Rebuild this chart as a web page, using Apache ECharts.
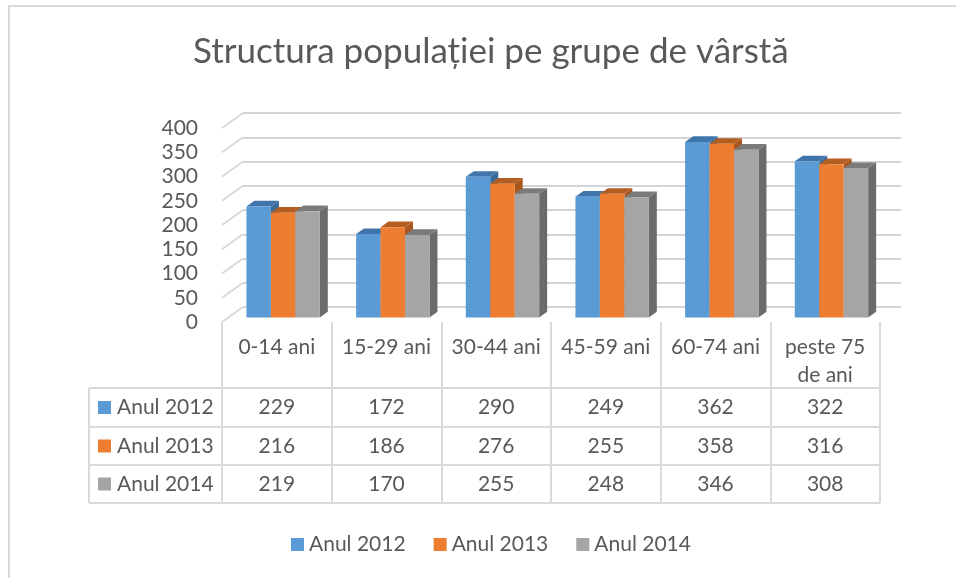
<!DOCTYPE html>
<html>
<head>
<meta charset="utf-8">
<script src="https://cdn.jsdelivr.net/npm/echarts@6/dist/echarts.min.js"></script>
<style>
html,body{margin:0;padding:0;background:#fff;}
#c{width:956px;height:578px;}
</style>
</head>
<body>
<div id="c"></div>
<script>
// ---- data ----
var categories = ['0-14 ani', '15-29 ani', '30-44 ani', '45-59 ani', '60-74 ani', 'peste 75\nde ani'];
var seriesNames = ['Anul 2012', 'Anul 2013', 'Anul 2014'];
var anul2012 = [229, 172, 290, 249, 362, 322];
var anul2013 = [216, 186, 276, 255, 358, 316];
var anul2014 = [219, 170, 255, 248, 346, 308];
var yTicks = [0, 50, 100, 150, 200, 250, 300, 350, 400];
var titleText = 'Structura populației pe grupe de vârstă';

// ---- style / layout ----
var FONT = 'Lato, "Open Sans", sans-serif';
var TXT = '#595959';
var LINE = '#d9d9d9';
var frontColors = ['#5b9bd5', '#ed7d31', '#a5a5a5'];
var topColors = ['#3f75ab', '#b55e22', '#7b7b7b'];
var sideColors = ['#3a6a98', '#a8561d', '#6b6b6b'];
var DX = 21, DY = -15;          // back wall offset from front plane
var FRONT_DEPTH = 0.3, BAR_DEPTH = 0.38, BAR_FRAC = 0.223;
var FS = 21;

var allValues = [anul2012, anul2013, anul2014];

var chart = echarts.init(document.getElementById('c'), null, {renderer: 'canvas'});

function barRenderer(si) {
  return function (params, api) {
    var c = api.value(0), v = api.value(1);
    var top = api.coord([c, v]);
    var base = api.coord([c, 0]);
    var band = api.size([1, 0])[0];
    var bw = band * BAR_FRAC;
    var fx = DX * FRONT_DEPTH, fy = DY * FRONT_DEPTH;
    var dx = DX * BAR_DEPTH, dy = DY * BAR_DEPTH;
    var x0 = top[0] - 1.5 * bw + si * bw + fx;
    var x1 = x0 + bw;
    var yT = top[1] + fy, yB = base[1] + fy;
    return {
      type: 'group',
      children: [
        {type: 'polygon', shape: {points: [[x1, yT], [x1 + dx, yT + dy], [x1 + dx, yB + dy], [x1, yB]]},
          style: {fill: sideColors[si]}},
        {type: 'polygon', shape: {points: [[x0, yT], [x1, yT], [x1 + dx, yT + dy], [x0 + dx, yT + dy]]},
          style: {fill: topColors[si]}},
        {type: 'rect', shape: {x: x0, y: yT, width: bw, height: yB - yT},
          style: {fill: frontColors[si]}}
      ]
    };
  };
}

var series = [];
// side wall diagonals
series.push({
  type: 'custom', xAxisIndex: 1, yAxisIndex: 1, silent: true,
  data: yTicks.map(function (t) { return [0, t]; }),
  renderItem: function (params, api) {
    var p = api.coord([0, api.value(1)]);
    var x = params.coordSys.x;
    return {type: 'line', shape: {x1: x, y1: p[1], x2: x + DX, y2: p[1] + DY},
      style: {stroke: LINE, lineWidth: 2}};
  }
});
seriesNames.forEach(function (name, si) {
  series.push({
    name: name, type: 'custom', xAxisIndex: 1, yAxisIndex: 1,
    itemStyle: {color: frontColors[si]},
    data: allValues[si].map(function (v, i) { return [i, v]; }),
    encode: {x: 0, y: 1},
    renderItem: barRenderer(si)
  });
});

var option = {
  animation: false,
  backgroundColor: '#fff',
  textStyle: {fontFamily: FONT},
  title: {
    text: titleText, left: 188, top: 29,
    textStyle: {fontFamily: FONT, fontSize: 35, fontWeight: 'normal', color: TXT}
  },
  legend: {
    data: seriesNames, left: 286, top: 529, icon: 'rect', itemWidth: 13, itemHeight: 13, itemGap: 28,
    textStyle: {fontFamily: FONT, fontSize: FS, color: TXT}
  },
  grid: [
    {left: 243, top: 113, width: 658, height: 194},  // back wall
    {left: 222, top: 128, width: 658, height: 194}   // front plane
  ],
  xAxis: [
    {type: 'category', gridIndex: 0, data: categories, show: false},
    {type: 'category', gridIndex: 1, data: categories,
      axisLine: {show: false},
      axisTick: {show: true, length: 181, inside: false, lineStyle: {color: LINE, width: 2}},
      axisLabel: {margin: 11, color: TXT, fontSize: FS, fontFamily: FONT, lineHeight: 28, align: 'center', verticalAlign: 'top', interval: 0}
    }
  ],
  yAxis: [
    {type: 'value', gridIndex: 0, min: 0, max: 400, interval: 50,
      axisLabel: {show: false}, axisLine: {show: false}, axisTick: {show: false},
      splitLine: {lineStyle: {color: '#d4d4d4', width: 2}}},
    {type: 'value', gridIndex: 1, min: 0, max: 400, interval: 50,
      axisLine: {show: false}, axisTick: {show: false}, splitLine: {show: false},
      axisLabel: {margin: 24, color: TXT, fontSize: FS, fontFamily: FONT}}
  ],
  series: series
};
chart.setOption(option);

// ---- data table (built from arrays, positioned with the front x axis) ----
var gridRight = 222 + 658;
var rowTops = [388, 427, 465, 503];
var tableLeft = 89;
var g = [];
g.push({type: 'rect', shape: {x: 9, y: 6, width: 960, height: 600},
  style: {fill: null, stroke: LINE, lineWidth: 2}, z: -10, silent: true});
rowTops.forEach(function (y) {
  g.push({type: 'line', shape: {x1: tableLeft, y1: y, x2: gridRight, y2: y}, style: {stroke: LINE, lineWidth: 2}});
});
g.push({type: 'line', shape: {x1: tableLeft, y1: rowTops[0], x2: tableLeft, y2: rowTops[3]}, style: {stroke: LINE, lineWidth: 2}});
seriesNames.forEach(function (name, si) {
  var yc = (rowTops[si] + rowTops[si + 1]) / 2;
  g.push({type: 'rect', shape: {x: 98, y: yc - 6.5, width: 13, height: 13}, style: {fill: frontColors[si]}});
  g.push({type: 'text', x: 117, y: yc, style: {text: name, fill: TXT, font: FS + 'px ' + FONT, textVerticalAlign: 'middle', textAlign: 'left'}});
  allValues[si].forEach(function (v, ci) {
    var px = chart.convertToPixel({xAxisIndex: 1}, ci);
    g.push({type: 'text', x: px, y: yc, style: {text: String(v), fill: TXT, font: FS + 'px ' + FONT, textVerticalAlign: 'middle', textAlign: 'center'}});
  });
});
chart.setOption({graphic: g});
</script>
</body>
</html>
